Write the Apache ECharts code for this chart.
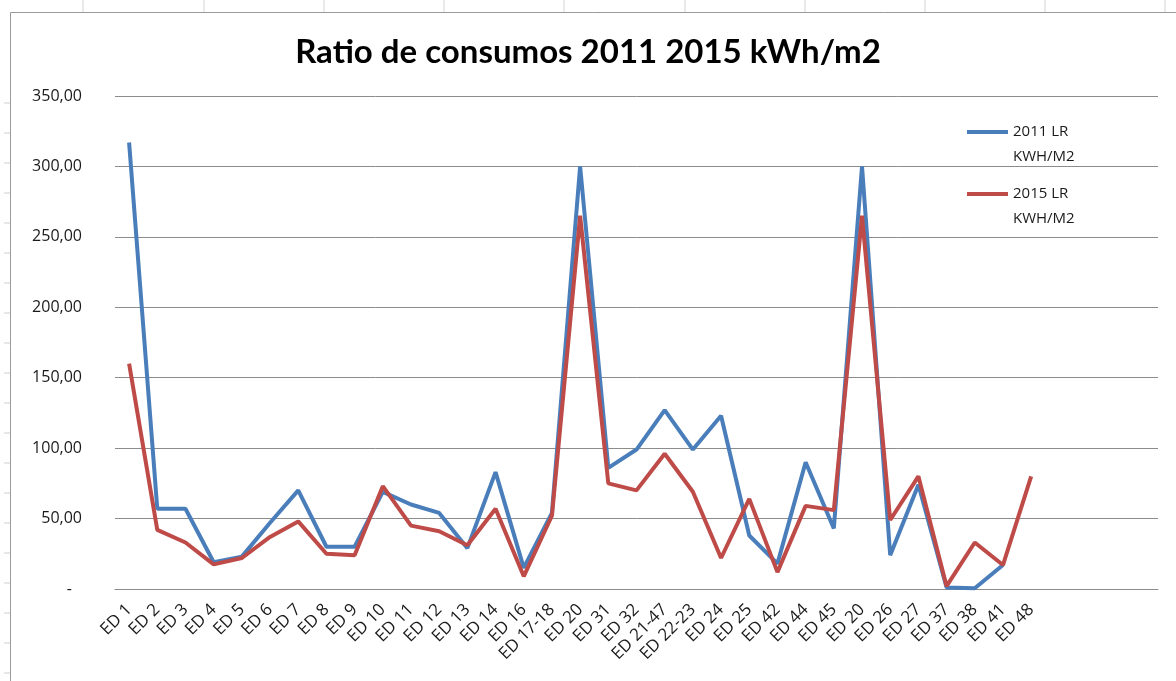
<!DOCTYPE html>
<html>
<head>
<meta charset="utf-8">
<script src="https://cdn.jsdelivr.net/npm/echarts@6/dist/echarts.min.js"></script>
<style>
html, body { margin: 0; padding: 0; background: #fff; }
#main { width: 1176px; height: 681px; }
</style>
</head>
<body>
<div id="main"></div>
<script>
var categories = ['ED 1', 'ED 2', 'ED 3', 'ED 4', 'ED 5', 'ED 6', 'ED 7', 'ED 8', 'ED 9', 'ED 10',
    'ED 11', 'ED 12', 'ED 13', 'ED 14', 'ED 16', 'ED 17-18', 'ED 20', 'ED 31', 'ED 32', 'ED 21-47',
    'ED 22-23', 'ED 24', 'ED 25', 'ED 42', 'ED 44', 'ED 45', 'ED 20', 'ED 26', 'ED 27', 'ED 37',
    'ED 38', 'ED 41', 'ED 48', '', '', '', ''];

var ratio2011 = [317, 57, 57, 19, 23, 47, 70, 30, 30, 69,
    60, 54, 29, 83, 15, 54, 300, 86, 99, 127,
    99, 123, 38, 18, 90, 43, 300, 24, 74, 1,
    0.5, 17, null];

var ratio2015 = [160, 42, 33, 17.5, 22, 37, 48, 25, 24, 73,
    45, 41, 31, 57, 9, 52, 265, 75, 70, 96,
    69, 22, 64, 12, 59, 56, 265, 49, 80, 2,
    33, 17, 80];

var seriesNames = ['2011 LR KWH/M2', '2015 LR KWH/M2'];

// spreadsheet cell lines peeking round the chart area
var sheetCols = [83, 204, 324, 444, 564, 685, 805, 925, 1045, 1165];
var sheetRows = [103, 133, 163, 193, 223, 253, 283, 313, 343, 373, 403, 433, 463, 493, 523, 553, 583, 613, 643, 673];

function yLabel(v) {
    if (v === 0) {
        return '{d|-}';
    }
    return v.toFixed(2).replace('.', ',');
}

function frame() {
    var els = [];
    for (var i = 0; i < sheetCols.length; i++) {
        els.push({
            type: 'line',
            shape: { x1: sheetCols[i], y1: 0, x2: sheetCols[i], y2: 12 },
            style: { stroke: '#d4d4d4', lineWidth: 1 }
        });
    }
    for (var j = 0; j < sheetRows.length; j++) {
        els.push({
            type: 'line',
            shape: { x1: 4, y1: sheetRows[j], x2: 10, y2: sheetRows[j] },
            style: { stroke: '#cfcfcf', lineWidth: 1 }
        });
    }
    els.push({
        type: 'polyline',
        shape: { points: [[10.5, 681], [10.5, 12.5], [1176, 12.5]] },
        style: { stroke: '#9a9a9a', lineWidth: 1, fill: null }
    });
    return els;
}

function draw() {
    var myChart = echarts.init(document.getElementById('main'), null, {
        width: 1176,
        height: 681
    });
    var option = {
        animation: false,
        textStyle: { fontFamily: 'Open Sans' },
        title: {
            text: 'Ratio de consumos 2011 2015 kWh/m2',
            left: 'center',
            top: 31,
            textStyle: { fontFamily: 'Lato', fontSize: 33, fontWeight: 'bold', color: '#000' }
        },
        legend: {
            orient: 'vertical',
            left: 962,
            top: 114,
            itemWidth: 41,
            itemHeight: 48,
            itemGap: 12,
            icon: 'path://M0,0M0,10H41V14H0ZM41,48',
            itemStyle: { borderWidth: 0 },
            data: seriesNames,
            formatter: function (name) {
                return name.replace(' KWH', '\nKWH');
            },
            textStyle: { fontFamily: 'Open Sans', fontSize: 15, lineHeight: 25, color: '#1a1a1a' }
        },
        grid: { left: 115, right: 18, top: 96, bottom: 92 },
        xAxis: {
            type: 'category',
            data: categories,
            boundaryGap: true,
            axisLine: { lineStyle: { color: '#8c8c8c', width: 1 } },
            axisTick: { show: false },
            axisLabel: {
                interval: 0,
                rotate: 45,
                margin: 18,
                fontFamily: 'Open Sans',
                fontSize: 17,
                color: '#1a1a1a'
            }
        },
        yAxis: {
            type: 'value',
            min: 0,
            max: 350,
            interval: 50,
            axisLine: { show: false },
            axisTick: { show: false },
            splitLine: { lineStyle: { color: '#8c8c8c', width: 1 } },
            axisLabel: {
                margin: 33,
                fontFamily: 'Open Sans',
                fontSize: 16,
                color: '#1a1a1a',
                formatter: yLabel,
                rich: { d: { fontFamily: 'Open Sans', fontSize: 16, color: '#1a1a1a', padding: [0, 10, 0, 0] } }
            }
        },
        graphic: frame(),
        series: [
            {
                name: seriesNames[0],
                type: 'line',
                data: ratio2011,
                symbol: 'none',
                color: '#4A7EBB',
                lineStyle: { width: 4, color: '#4A7EBB' }
            },
            {
                name: seriesNames[1],
                type: 'line',
                data: ratio2015,
                symbol: 'none',
                color: '#BE4B48',
                lineStyle: { width: 4, color: '#BE4B48' }
            }
        ]
    };
    myChart.setOption(option);
}

draw();
</script>
</body>
</html>
